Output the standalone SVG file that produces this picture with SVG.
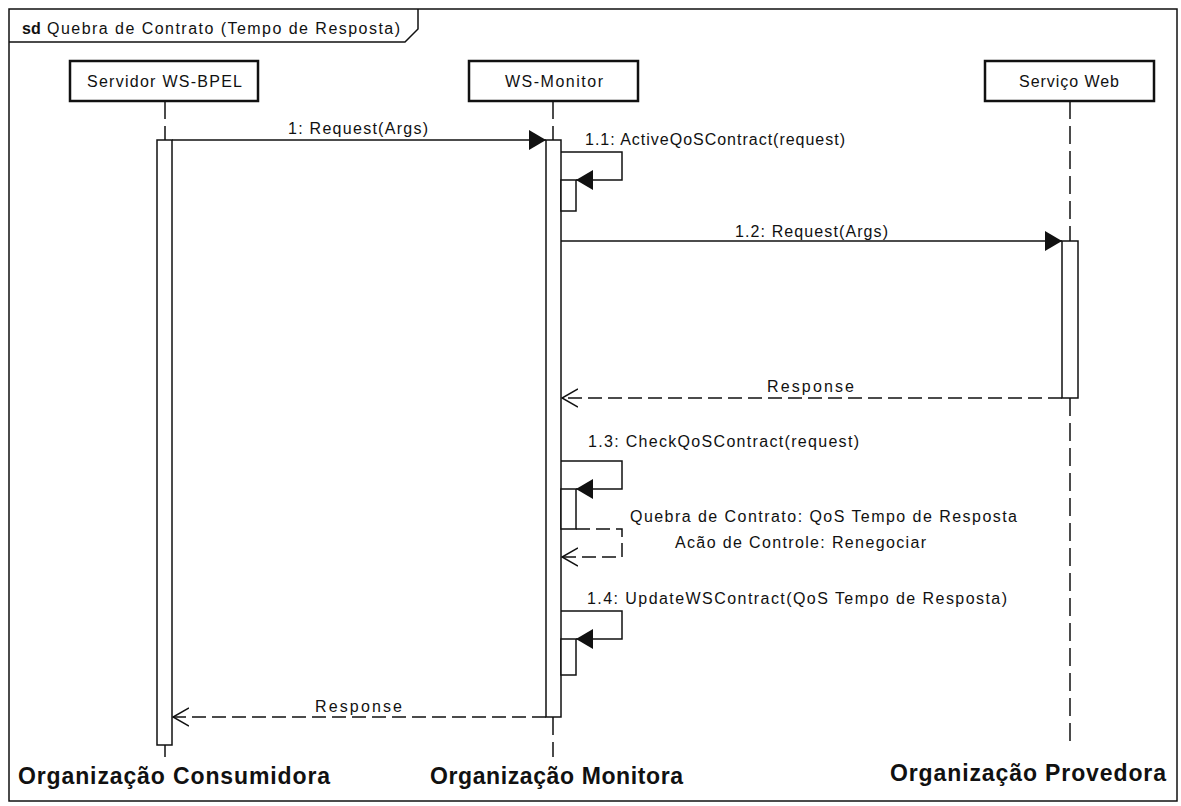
<svg xmlns="http://www.w3.org/2000/svg" width="1181" height="806" viewBox="0 0 1181 806">
  <style>
    .t { font-family: "Liberation Sans", Arial, sans-serif; font-size: 16px; fill: #111; }
    .tb { font-family: "Liberation Sans", Arial, sans-serif; font-size: 23px; font-weight: bold; fill: #111; }
    .box { fill: #fff; stroke: #111; stroke-width: 2.5; }
    .bar { fill: #fff; stroke: #111; stroke-width: 1.5; }
    .life { fill: none; stroke: #111; stroke-width: 1.5; stroke-dasharray: 18 7; }
    .msg { fill: none; stroke: #111; stroke-width: 1.5; }
    .ret { fill: none; stroke: #111; stroke-width: 1.5; stroke-dasharray: 14 6; }
    .frame { fill: none; stroke: #111; stroke-width: 1.5; }
  </style>
  <defs>
    <marker id="filled" viewBox="0 0 17 20" refX="17" refY="10" markerWidth="17" markerHeight="20" markerUnits="userSpaceOnUse" orient="auto">
      <path d="M0,0 L17,10 L0,20 Z" fill="#111"/>
    </marker>
    <marker id="open" viewBox="0 0 17 20" refX="16" refY="10" markerWidth="17" markerHeight="20" markerUnits="userSpaceOnUse" orient="auto">
      <path d="M0,1 L16,10 L0,19" fill="none" stroke="#111" stroke-width="1.5"/>
    </marker>
  </defs>

  <rect width="1181" height="806" fill="#fff"/>

  <!-- interaction frame -->
  <g id="frame">
    <rect class="frame" x="9" y="9" width="1168" height="792"/>
    <path class="frame" d="M9,42 L405,42 L418,29 L418,9"/>
    <text class="t" x="22" y="34"><tspan font-weight="bold">sd</tspan></text>
    <text class="t" x="47" y="34" textLength="353" lengthAdjust="spacing">Quebra de Contrato (Tempo de Resposta)</text>
  </g>

  <!-- lifelines -->
  <g id="servidor">
    <line class="life" x1="165" y1="101" x2="165" y2="140"/>
    <line class="life" x1="165" y1="745" x2="165" y2="757"/>
    <rect class="box" x="70" y="61" width="188" height="40"/>
    <text class="t" x="87" y="87" textLength="155" lengthAdjust="spacing">Servidor WS-BPEL</text>
    <rect class="bar" x="157" y="140" width="15" height="605"/>
    <text class="tb" x="18" y="784" textLength="312" lengthAdjust="spacing">Organização Consumidora</text>
  </g>

  <g id="monitor">
    <line class="life" x1="553" y1="101" x2="553" y2="140"/>
    <line class="life" x1="553" y1="717" x2="553" y2="757"/>
    <rect class="box" x="469" y="61" width="169" height="40"/>
    <text class="t" x="505" y="87" textLength="98" lengthAdjust="spacing">WS-Monitor</text>
    <rect class="bar" x="546" y="140" width="15" height="577"/>
    <rect class="bar" x="561" y="180" width="15" height="31"/>
    <rect class="bar" x="561" y="489" width="15" height="40"/>
    <rect class="bar" x="561" y="639" width="15" height="36"/>
    <text class="tb" x="430" y="784" textLength="253" lengthAdjust="spacing">Organização Monitora</text>
  </g>

  <g id="servico">
    <line class="life" x1="1070" y1="101" x2="1070" y2="241"/>
    <line class="life" x1="1070" y1="398" x2="1070" y2="748"/>
    <rect class="box" x="985" y="61" width="169" height="40"/>
    <text class="t" x="1019" y="87" textLength="100" lengthAdjust="spacing">Serviço Web</text>
    <rect class="bar" x="1062" y="241" width="16" height="157"/>
    <text class="tb" x="890" y="781" textLength="276" lengthAdjust="spacing">Organização Provedora</text>
  </g>

  <!-- messages -->
  <g id="connectors">
    <line class="msg" x1="172" y1="140" x2="546" y2="140" marker-end="url(#filled)"/>
    <text class="t" x="288" y="134" textLength="140" lengthAdjust="spacing">1: Request(Args)</text>

    <path class="msg" d="M561,152 L622,152 L622,180 L576,180" marker-end="url(#filled)"/>
    <text class="t" x="585" y="145" textLength="260" lengthAdjust="spacing">1.1: ActiveQoSContract(request)</text>

    <line class="msg" x1="561" y1="241" x2="1062" y2="241" marker-end="url(#filled)"/>
    <text class="t" x="735" y="237" textLength="153" lengthAdjust="spacing">1.2: Request(Args)</text>

    <line class="ret" x1="1062" y1="398" x2="562" y2="398" marker-end="url(#open)"/>
    <text class="t" x="767" y="392" textLength="87" lengthAdjust="spacing">Response</text>

    <path class="msg" d="M561,461 L622,461 L622,489 L576,489" marker-end="url(#filled)"/>
    <text class="t" x="588" y="447" textLength="271" lengthAdjust="spacing">1.3: CheckQoSContract(request)</text>

    <path class="ret" d="M576,529 L622,529 L622,557 L562,557" marker-end="url(#open)"/>
    <text class="t" x="630" y="522" textLength="387" lengthAdjust="spacing">Quebra de Contrato: QoS Tempo de Resposta</text>
    <text class="t" x="675" y="548" textLength="251" lengthAdjust="spacing">Acão de Controle: Renegociar</text>

    <path class="msg" d="M561,611 L622,611 L622,639 L576,639" marker-end="url(#filled)"/>
    <text class="t" x="587" y="604" textLength="420" lengthAdjust="spacing">1.4: UpdateWSContract(QoS Tempo de Resposta)</text>

    <line class="ret" x1="546" y1="717" x2="173" y2="717" marker-end="url(#open)"/>
    <text class="t" x="315" y="712" textLength="87" lengthAdjust="spacing">Response</text>
  </g>
</svg>
